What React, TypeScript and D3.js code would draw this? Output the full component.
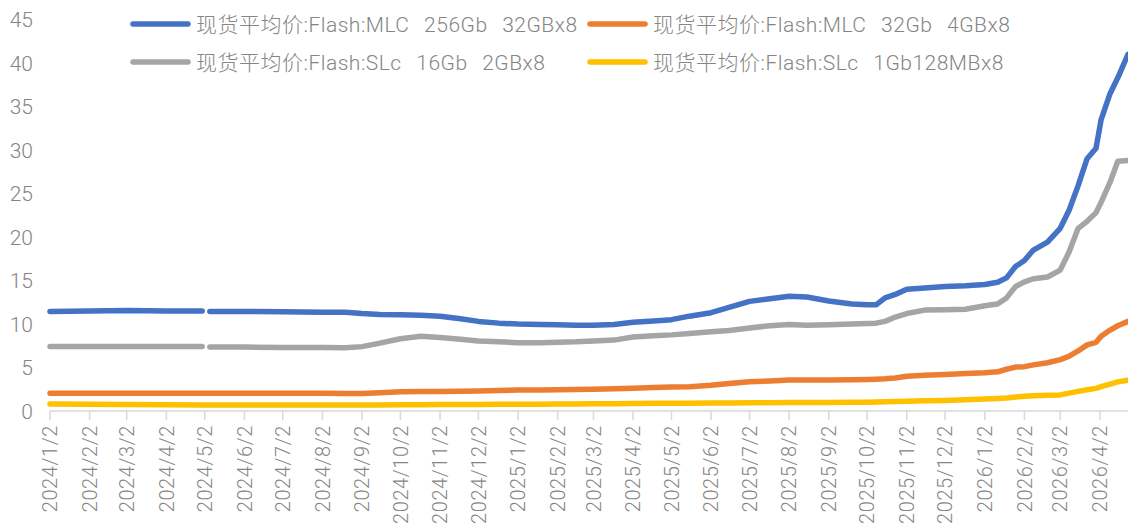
import React from "react";
import * as d3 from "d3";

// weekly-ish readings of spot prices (USD)
const dates = [
  "2024-01-02", "2024-02-02", "2024-03-02", "2024-04-02", "2024-04-30", "2024-05-03", "2024-05-06",
  "2024-06-02", "2024-07-02", "2024-08-02", "2024-08-20", "2024-09-02", "2024-09-16", "2024-10-02",
  "2024-10-18", "2024-11-02", "2024-11-18", "2024-12-02", "2024-12-18", "2025-01-02", "2025-01-20",
  "2025-02-02", "2025-02-16", "2025-03-02", "2025-03-18", "2025-04-02", "2025-04-18", "2025-05-02",
  "2025-05-16", "2025-06-02", "2025-06-16", "2025-07-02", "2025-07-18", "2025-08-02", "2025-08-16",
  "2025-09-02", "2025-09-20", "2025-10-02", "2025-10-09", "2025-10-16", "2025-10-24", "2025-11-02",
  "2025-11-16", "2025-12-02", "2025-12-18", "2026-01-02", "2026-01-12", "2026-01-19", "2026-01-26",
  "2026-02-02", "2026-02-09", "2026-02-20", "2026-03-02", "2026-03-09", "2026-03-16", "2026-03-23",
  "2026-03-30", "2026-04-03", "2026-04-10", "2026-04-16", "2026-04-24",
];

const mlc256 = [
  11.45, 11.5, 11.55, 11.5, 11.5, null, 11.45, 11.45, 11.4, 11.35, 11.35, 11.2, 11.1, 11.05, 11.0,
  10.9, 10.6, 10.3, 10.1, 10.0, 9.95, 9.9, 9.85, 9.85, 9.95, 10.2, 10.35, 10.5, 10.9, 11.3, 11.9,
  12.6, 12.9, 13.2, 13.1, 12.65, 12.3, 12.2, 12.2, 13.0, 13.4, 14.0, 14.15, 14.3, 14.4, 14.55, 14.8,
  15.3, 16.6, 17.3, 18.5, 19.4, 21.0, 23.1, 25.9, 29.0, 30.2, 33.5, 36.5, 38.3, 41.0,
];

const mlc32 = [
  2.05, 2.05, 2.05, 2.05, 2.05, 2.05, 2.05, 2.05, 2.05, 2.05, 2.0, 2.0, 2.1, 2.2, 2.25, 2.25, 2.28,
  2.3, 2.35, 2.4, 2.42, 2.45, 2.48, 2.5, 2.55, 2.62, 2.7, 2.75, 2.8, 2.95, 3.15, 3.35, 3.45, 3.55,
  3.55, 3.55, 3.58, 3.62, 3.65, 3.7, 3.8, 4.0, 4.1, 4.2, 4.3, 4.4, 4.5, 4.8, 5.05, 5.1, 5.3, 5.55,
  5.9, 6.3, 6.9, 7.6, 7.9, 8.6, 9.3, 9.8, 10.3,
];

const slc16 = [
  7.4, 7.4, 7.4, 7.4, 7.4, null, 7.35, 7.35, 7.3, 7.3, 7.27, 7.4, 7.8, 8.3, 8.6, 8.45, 8.25, 8.05,
  7.95, 7.85, 7.85, 7.9, 7.95, 8.05, 8.15, 8.5, 8.65, 8.75, 8.9, 9.1, 9.25, 9.55, 9.8, 9.95, 9.85,
  9.9, 10.0, 10.05, 10.1, 10.3, 10.8, 11.2, 11.6, 11.65, 11.7, 12.1, 12.3, 13.0, 14.3, 14.85, 15.2,
  15.4, 16.2, 18.3, 21.0, 21.8, 22.8, 24.0, 26.3, 28.7, 28.8,
];

const slc1 = [
  0.8, 0.78, 0.75, 0.72, 0.7, 0.7, 0.7, 0.7, 0.7, 0.7, 0.68, 0.68, 0.7, 0.72, 0.73, 0.74, 0.75,
  0.76, 0.77, 0.78, 0.79, 0.8, 0.81, 0.82, 0.84, 0.86, 0.88, 0.9, 0.9, 0.92, 0.93, 0.95, 0.96, 0.97,
  0.98, 0.99, 1.0, 1.02, 1.03, 1.05, 1.08, 1.12, 1.18, 1.22, 1.3, 1.38, 1.45, 1.5, 1.6, 1.7, 1.75,
  1.8, 1.85, 2.05, 2.25, 2.45, 2.6, 2.8, 3.1, 3.35, 3.55,
];

const seriesNames = [
  "现货平均价:Flash:MLC 256Gb 32GBx8",
  "现货平均价:Flash:MLC 32Gb 4GBx8",
  "现货平均价:Flash:SLc 16Gb 2GBx8",
  "现货平均价:Flash:SLc 1Gb128MBx8",
];
const seriesValues = [mlc256, mlc32, slc16, slc1];
const colors = ["#4472C4", "#ED7D31", "#A5A5A5", "#FFC000"];

const yTicks = [0, 5, 10, 15, 20, 25, 30, 35, 40, 45];
const xTickLabels = [
  "2024/1/2", "2024/2/2", "2024/3/2", "2024/4/2", "2024/5/2", "2024/6/2", "2024/7/2", "2024/8/2",
  "2024/9/2", "2024/10/2", "2024/11/2", "2024/12/2", "2025/1/2", "2025/2/2", "2025/3/2", "2025/4/2",
  "2025/5/2", "2025/6/2", "2025/7/2", "2025/8/2", "2025/9/2", "2025/10/2", "2025/11/2", "2025/12/2",
  "2026/1/2", "2026/2/2", "2026/3/2", "2026/4/2",
];

const W = 1128;
const H = 524;
const left = 50;
const axisY = 411;
const textColor = "#858585";
const font = "Roboto, 'Noto Sans CJK SC', sans-serif";

const parseDay = d3.timeParse("%Y-%m-%d");
const parseTick = d3.timeParse("%Y/%m/%d");

export default function App() {
  const x = d3
    .scaleTime()
    .domain([parseDay("2024-01-02")!, parseDay("2026-04-24")!])
    .range([left, W]);
  const y = d3.scaleLinear().domain([0, 45]).range([axisY, axisY - 9 * 43.5]);

  const line = d3
    .line<number | null>()
    .defined((v) => v != null)
    .x((_, i) => x(parseDay(dates[i])!))
    .y((v) => y(v as number));

  return (
    <svg
      width={W}
      height={H}
      style={{ position: "absolute", left: 0, top: 0, background: "#fff" }}
      fontFamily={font}
    >
      {/* y labels */}
      {yTicks.map((t) => (
        <text
          key={t}
          x={33}
          y={y(t)}
          dy="0.36em"
          textAnchor="end"
          fontSize={21}
          fontWeight={300}
          fill={textColor}
        >
          {t}
        </text>
      ))}

      {/* x axis */}
      <line x1={left} x2={W} y1={axisY} y2={axisY} stroke="#d9d9d9" strokeWidth={1.5} />
      {xTickLabels.map((lbl) => {
        const tx = x(parseTick(lbl)!);
        return (
          <g key={lbl} transform={`translate(${tx},${axisY})`}>
            <line y1={0} y2={9} stroke="#d9d9d9" strokeWidth={1.5} />
            <text
              transform="translate(0,14) rotate(-90)"
              dy="0.36em"
              textAnchor="end"
              fontSize={20}
              fontWeight={300}
              letterSpacing={0.6}
              fill={textColor}
            >
              {lbl}
            </text>
          </g>
        );
      })}

      {/* lines */}
      {seriesValues.map((vals, i) => (
        <path
          key={seriesNames[i]}
          d={line(vals) || ""}
          fill="none"
          stroke={colors[i]}
          strokeWidth={5.5}
          strokeLinejoin="round"
          strokeLinecap="round"
        />
      ))}

      {/* legend, two rows */}
      {seriesNames.map((name, i) => {
        const col = i % 2;
        const row = Math.floor(i / 2);
        const lx = col === 0 ? 133 : 590;
        const ly = 24 + row * 38;
        return (
          <g key={name} transform={`translate(${lx},${ly})`}>
            <line x1={0} x2={55} stroke={colors[i]} strokeWidth={5.5} strokeLinecap="round" />
            <text
              x={63}
              dy="0.36em"
              fontSize={21}
              fontWeight={300}
              fill={textColor}
              wordSpacing={9}
              letterSpacing={0.5}
            >
              {name}
            </text>
          </g>
        );
      })}
    </svg>
  );
}
